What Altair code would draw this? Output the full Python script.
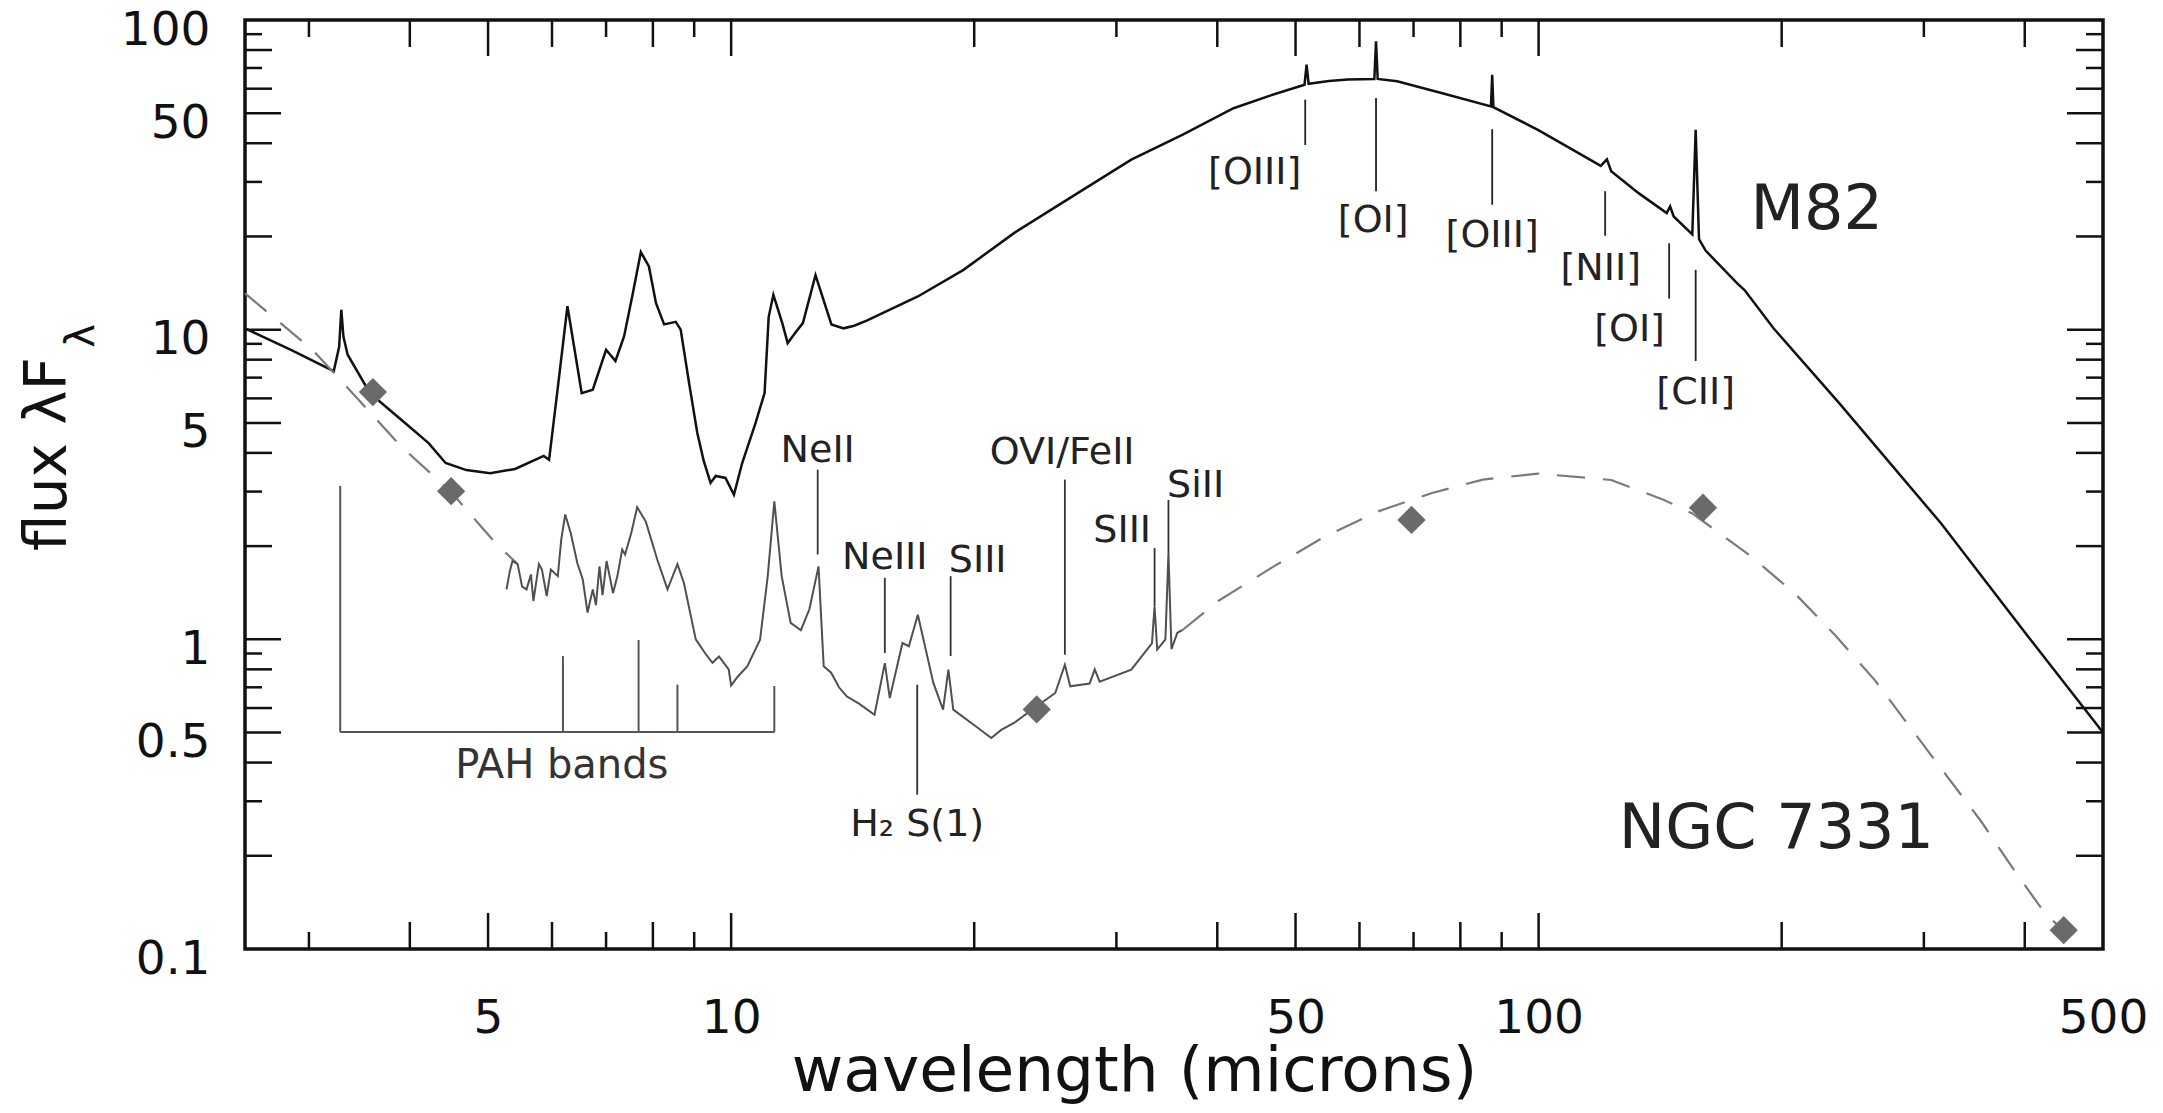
import altair as alt
import pandas as pd

# ---------------- data ----------------
m82_wl = [2.5, 2.85, 3.22, 3.27, 3.29, 3.31, 3.35, 3.57, 3.9, 4.22, 4.43, 4.7, 5.03, 5.4, 5.86, 5.95,
          6.1, 6.27, 6.4, 6.53, 6.74, 7.0, 7.19, 7.37, 7.55, 7.73, 7.91, 8.07, 8.26, 8.54, 8.66, 8.87,
          9.08, 9.25, 9.43, 9.57, 9.84, 10.08, 10.32, 10.72, 11.0, 11.13, 11.28, 11.57, 11.75, 12.0,
          12.27, 12.72, 13.31, 13.78, 14.2, 14.72, 17.03, 19.4, 22.4, 25.9, 31.3, 36.2, 41.9, 46.5,
          51.3, 51.6, 51.9, 55.0, 58.0, 62.6, 62.9, 63.2, 66.8, 76.0, 87.3, 87.6, 87.9, 99.8, 110.0,
          119.4, 121.5, 123.0, 133.0, 144.1, 145.5, 147.0, 155.0, 156.5, 158.0, 161.0, 176.2, 180.0,
          195.4, 235.5, 315.0, 404.0, 500.0]
m82_flux = [10.1, 8.6, 7.35, 8.8, 11.6, 9.5, 8.3, 6.24, 5.13, 4.30, 3.71, 3.52, 3.44, 3.55, 3.91, 3.80,
            6.5, 11.9, 8.6, 6.24, 6.40, 8.61, 7.92, 9.53, 13.0, 17.8, 16.0, 12.2, 10.4, 10.6, 10.0, 6.72,
            4.64, 3.76, 3.20, 3.37, 3.32, 2.93, 3.71, 4.99, 6.24, 11.0, 12.96, 10.5, 9.05, 9.75,
            10.5, 15.0, 10.4, 10.1, 10.3, 10.7, 12.8, 15.6, 20.5, 26.0, 35.4, 42.6, 51.9, 57.0,
            61.8, 71.7, 62.2, 63.5, 64.3, 64.5, 85.3, 64.5, 63.4, 58.0, 52.6, 66.5, 52.3, 44.2, 38.2,
            33.8, 35.5, 32.5, 27.6, 23.8, 25.0, 23.2, 20.3, 44.2, 19.6, 18.0, 14.1, 13.4,
            10.1, 5.8, 2.37, 1.02, 0.50]

ngc_wl = [5.27, 5.32, 5.36, 5.44, 5.51, 5.58, 5.65, 5.69, 5.78, 5.83, 5.91, 5.98, 6.10, 6.16, 6.23,
          6.33, 6.45, 6.55, 6.64, 6.74, 6.80, 6.87, 6.93, 7.01, 7.10, 7.14, 7.23, 7.33, 7.39, 7.52,
          7.65, 7.84, 8.10, 8.34, 8.58, 8.74, 9.04, 9.29, 9.48, 9.66, 9.93, 10.0, 10.2, 10.47, 10.86,
          11.1, 11.31, 11.55, 11.85, 12.2, 12.5, 12.83, 13.02, 13.3, 13.6, 13.9, 14.4, 15.05, 15.5,
          15.72, 16.3, 16.6, 17.03, 17.8, 18.3, 18.58, 18.84, 19.97, 21.0, 21.6, 22.4, 23.9, 25.2,
          25.9, 26.3, 27.8, 28.2, 28.6, 31.3, 33.2, 33.45, 33.7, 34.5, 34.8, 35.1, 35.7, 36.2]
ngc_flux = [1.45, 1.66, 1.79, 1.75, 1.48, 1.45, 1.62, 1.33, 1.75, 1.68, 1.38, 1.68, 1.60, 2.10, 2.53,
            2.20, 1.76, 1.56, 1.22, 1.45, 1.29, 1.72, 1.39, 1.79, 1.52, 1.41, 1.60, 1.95, 1.88, 2.2,
            2.67, 2.40, 1.81, 1.45, 1.75, 1.52, 1.0, 0.90, 0.84, 0.88, 0.80, 0.71, 0.76, 0.818, 0.997,
            1.6, 2.79, 1.6, 1.13, 1.07, 1.25, 1.72, 0.818, 0.78, 0.70, 0.655, 0.62, 0.571, 0.838,
            0.646, 0.973, 0.95, 1.20, 0.723, 0.593, 0.798, 0.593, 0.530, 0.480, 0.51, 0.537, 0.608, 0.671,
            0.828, 0.705, 0.72, 0.80, 0.73, 0.798, 0.97, 1.278, 0.926, 1.0, 1.90, 0.93, 1.05, 1.07]

model1_wl = [2.5, 3.03, 3.44, 3.9, 4.49, 4.91, 5.15, 5.43]
model1_flux = [13.1, 8.61, 6.02, 4.20, 3.01, 2.30, 2.0, 1.76]
model2_wl = [36.2, 40.1, 47.0, 54.4, 63.3, 73.8, 85.3, 99.8, 123, 143, 155, 183, 208, 233, 261, 288,
             320, 353, 389, 425, 447]
model2_flux = [1.07, 1.33, 1.72, 2.15, 2.59, 2.97, 3.28, 3.43, 3.27, 2.82, 2.55, 1.86, 1.40, 1.03,
               0.737, 0.523, 0.363, 0.259, 0.178, 0.129, 0.115]

phot_wl = [3.6, 4.5, 23.9, 69.6, 159.8, 447]
phot_flux = [6.29, 3.01, 0.594, 2.43, 2.66, 0.115]

m82_line_wl = [51.4, 62.9, 87.6, 120.9, 145.1, 156.5]
m82_line_lo = [39.5, 28.0, 25.3, 20.1, 12.6, 7.92]
m82_line_hi = [55.3, 56.0, 44.4, 28.0, 19.0, 15.6]
m82_labels = ["[OIII]", "[OI]", "[OIII]", "[NII]", "[OI]", "[CII]"]
m82_label_wl = [44.5, 62.4, 87.6, 119.4, 129.6, 156.5]
m82_label_fl = [32.0, 22.4, 20.0, 15.7, 10.0, 6.24]

ngc_line_wl = [12.8, 15.5, 18.7, 17.0, 25.9, 33.45, 34.8]
ngc_line_lo = [1.88, 0.903, 0.883, 0.315, 0.892, 1.28, 1.90]
ngc_line_hi = [3.53, 1.58, 1.60, 0.714, 3.28, 1.97, 2.82]
ngc_labels = ["NeII", "NeIII", "SIII", "H\u2082 S(1)", "OVI/FeII", "SIII", "SiII"]
ngc_label_wl = [12.8, 15.5, 20.2, 17.0, 25.7, 30.5, 37.6]
ngc_label_fl = [4.06, 1.83, 1.79, 0.252, 4.0, 2.23, 3.12]

pah_wl = [3.28, 6.19, 7.68, 8.58, 11.31]
pah_top = [3.13, 0.883, 0.995, 0.714, 0.707]
pah_base = 0.502
pah_text = ["PAH bands"]
pah_text_wl = [6.17]
pah_text_fl = [0.39]

galaxy_names = ["M82", "NGC 7331"]
galaxy_wl = [221, 197]
galaxy_fl = [24.3, 0.244]

x_tick_labels = [5, 10, 50, 100, 500]
y_tick_labels = [0.1, 0.5, 1, 5, 10, 50, 100]
x_long = [5, 10, 50, 100]
x_med = [4, 6, 8, 20, 40, 60, 80, 200, 400]
x_short = [3, 7, 9, 30, 70, 90, 300]
y_long = [0.5, 1, 5, 10, 50]
y_med = [0.2, 0.4, 0.6, 0.8, 2, 4, 6, 8, 20, 40, 60, 80]
y_short = [0.3, 0.7, 0.9, 3, 7, 9, 30, 70, 90]

# ---------------- chart ----------------
W, H = 1858, 929
FONT = "DejaVu Sans"

xscale = alt.Scale(type="log", domain=[2.5, 500], nice=False)
yscale = alt.Scale(type="log", domain=[0.1, 100], nice=False)

xaxis = alt.Axis(values=x_tick_labels, format="~g", ticks=False, tickSize=0, domain=False, grid=False,
                 labelFont=FONT, labelFontSize=47, labelColor="#111", labelPadding=46,
                 labelFlush=False, labelOverlap=False,
                 title="wavelength (microns)", titleFont=FONT, titleFontSize=63,
                 titleFontWeight="normal", titleColor="#111", titleX=889, titleY=141,
                 titleAlign="center", titleBaseline="alphabetic")
yaxis = alt.Axis(values=y_tick_labels, format="~g", ticks=False, tickSize=0, domain=False, grid=False,
                 labelFont=FONT, labelFontSize=47, labelColor="#111", labelPadding=35,
                 labelOffset=10, labelFlush=False, labelOverlap=False, title=None)

XE = alt.X("wl:Q", scale=xscale, axis=xaxis)
YE = alt.Y("fl:Q", scale=yscale, axis=yaxis)

m82_df = pd.DataFrame({"wl": m82_wl, "fl": m82_flux})
ngc_df = pd.DataFrame({"wl": ngc_wl, "fl": ngc_flux})
model_df = pd.concat([
    pd.DataFrame({"wl": model1_wl, "fl": model1_flux, "seg": "a"}),
    pd.DataFrame({"wl": model2_wl, "fl": model2_flux, "seg": "b"}),
])
phot_df = pd.DataFrame({"wl": phot_wl, "fl": phot_flux})

model_line = alt.Chart(model_df).mark_line(color="#7a7a7a", strokeWidth=2.2, strokeDash=[28, 18]).encode(
    x=XE, y=YE, detail="seg:N")
ngc_line = alt.Chart(ngc_df).mark_line(color="#505050", strokeWidth=2.0).encode(x=XE, y=YE)
m82_line = alt.Chart(m82_df).mark_line(color="#111111", strokeWidth=2.5).encode(x=XE, y=YE)
phot = alt.Chart(phot_df).mark_point(shape="diamond", filled=True, size=800, color="#6a6a6a",
                                     opacity=1).encode(x=XE, y=YE)

m82_marks = alt.Chart(pd.DataFrame({"wl": m82_line_wl, "fl": m82_line_lo, "fl2": m82_line_hi})).mark_rule(
    color="#222", strokeWidth=1.8).encode(x=XE, y=YE, y2="fl2:Q")
m82_text = alt.Chart(pd.DataFrame({"wl": m82_label_wl, "fl": m82_label_fl, "t": m82_labels})).mark_text(
    font=FONT, fontSize=38, color="#222", align="center", baseline="middle").encode(x=XE, y=YE, text="t:N")

ngc_marks = alt.Chart(pd.DataFrame({"wl": ngc_line_wl, "fl": ngc_line_lo, "fl2": ngc_line_hi})).mark_rule(
    color="#333", strokeWidth=1.8).encode(x=XE, y=YE, y2="fl2:Q")
ngc_text = alt.Chart(pd.DataFrame({"wl": ngc_label_wl, "fl": ngc_label_fl, "t": ngc_labels})).mark_text(
    font=FONT, fontSize=38, color="#222", align="center", baseline="middle").encode(x=XE, y=YE, text="t:N")

pah_v = alt.Chart(pd.DataFrame({"wl": pah_wl, "fl": [pah_base] * len(pah_wl), "fl2": pah_top})).mark_rule(
    color="#555", strokeWidth=2.0).encode(x=XE, y=YE, y2="fl2:Q")
pah_h = alt.Chart(pd.DataFrame({"wl": [pah_wl[0]], "wl2": [pah_wl[-1]], "fl": [pah_base]})).mark_rule(
    color="#555", strokeWidth=2.0).encode(x=XE, x2="wl2:Q", y=YE)
pah_lbl = alt.Chart(pd.DataFrame({"wl": pah_text_wl, "fl": pah_text_fl, "t": pah_text})).mark_text(
    font=FONT, fontSize=40, color="#333", align="center", baseline="middle").encode(x=XE, y=YE, text="t:N")

gal_lbl = alt.Chart(pd.DataFrame({"wl": galaxy_wl, "fl": galaxy_fl, "t": galaxy_names})).mark_text(
    font=FONT, fontSize=62, color="#222", align="center", baseline="middle").encode(x=XE, y=YE, text="t:N")

ytitle = alt.Chart(pd.DataFrame({"t": ["flux \u03bbF"]})).mark_text(
    font=FONT, fontSize=58, color="#111", angle=270, align="center", baseline="middle").encode(
    text="t:N", x=alt.value(-196), y=alt.value(434))
ysub = alt.Chart(pd.DataFrame({"t": ["\u03bb"]})).mark_text(
    font=FONT, fontSize=40, color="#111", angle=270, align="center", baseline="middle").encode(
    text="t:N", x=alt.value(-163), y=alt.value(316))


def xticks(vals, L):
    df = pd.DataFrame({"wl": vals})
    bot = alt.Chart(df).mark_rule(color="#111", strokeWidth=2.5).encode(
        x=XE, y=alt.value(H), y2=alt.value(H - L))
    top = alt.Chart(df).mark_rule(color="#111", strokeWidth=2.5).encode(
        x=XE, y=alt.value(0), y2=alt.value(L))
    return [bot, top]


def yticks(vals, L):
    df = pd.DataFrame({"fl": vals})
    left = alt.Chart(df).mark_rule(color="#111", strokeWidth=2.5).encode(
        y=YE, x=alt.value(0), x2=alt.value(L))
    right = alt.Chart(df).mark_rule(color="#111", strokeWidth=2.5).encode(
        y=YE, x=alt.value(W), x2=alt.value(W - L))
    return [left, right]


tick_layers = (xticks(x_long, 36) + xticks(x_med, 27) + xticks(x_short, 17)
               + yticks(y_long, 36) + yticks(y_med, 27) + yticks(y_short, 17))

chart = alt.layer(
    m82_line, model_line, ngc_line, pah_v, pah_h, m82_marks, ngc_marks, phot,
    m82_text, ngc_text, pah_lbl, gal_lbl, ytitle, ysub, *tick_layers
).properties(
    width=W, height=H,
    padding={"left": 237, "top": 12, "right": 52, "bottom": 155},
    autosize=alt.AutoSizeParams(type="none"),
    background="white",
).configure_view(stroke="#111", strokeWidth=3.5)

chart.save("out.html", embed_options={"renderer": "svg", "actions": False})
